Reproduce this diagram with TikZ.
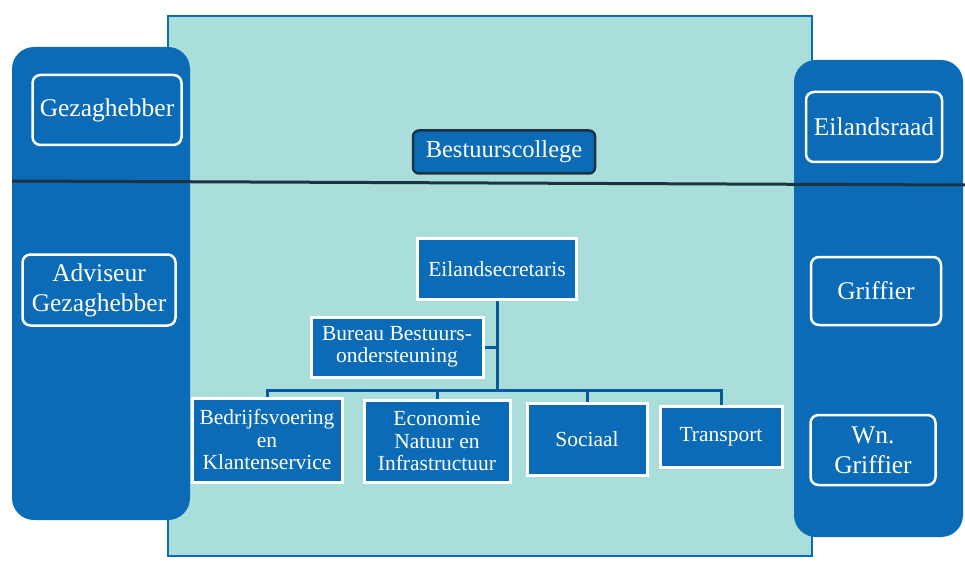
\documentclass[tikz,border=0pt]{standalone}
\usepackage{fontspec}
\setmainfont{Liberation Serif}
\usetikzlibrary{positioning}
\definecolor{panelblue}{RGB}{12,107,182}
\definecolor{paleteal}{RGB}{170,222,218}
\definecolor{darkline}{RGB}{28,52,66}

\begin{document}
\begin{tikzpicture}[
  x=1pt, y=-1pt,
  sidebox/.style={draw=white, line width=2.5pt, fill=panelblue, rounded corners=8pt, inner sep=0pt, text=white, align=center, font=\fontsize{25.5}{30}\selectfont},
  unitbox/.style={draw=white, line width=3pt, fill=panelblue, inner sep=0pt, text=white, align=center, font=\fontsize{21.5}{22.5}\selectfont},
  collegebox/.style={draw=darkline, line width=2.5pt, fill=panelblue, rounded corners=6pt, inner sep=0pt, text=white, font=\fontsize{24.5}{28}\selectfont},
  link/.style={draw=panelblue!85!black, line width=3pt}
]

\useasboundingbox (0,0) rectangle (965,561);
\draw[fill=paleteal, draw=panelblue, line width=2pt] (168,16) rectangle (812,556);
\fill[panelblue, rounded corners=22pt] (12,47) rectangle (190,520);
\fill[panelblue, rounded corners=22pt] (794,60) rectangle (963,537);
\draw[darkline, line width=3pt] (12,181) -- (965,185);

\node[sidebox, minimum width=149pt, minimum height=70pt] (gezag) at (107,110) {Gezaghebber};
\node[sidebox, minimum width=153pt, minimum height=71pt] (adviseur) at (99,290) {Adviseur\\Gezaghebber};
\node[sidebox, minimum width=136pt, minimum height=70pt] (raad) at (874,127) {Eilandsraad};
\node[sidebox, minimum width=130pt, minimum height=68pt] (griffier) at (876,291) {Griffier};
\node[sidebox, minimum width=125pt, minimum height=70pt] (wngriffier) at (873,450) {Wn.\\Griffier};
\node[collegebox, minimum width=182pt, minimum height=43pt] (college) at (504,152) {Bestuurscollege};

\node[unitbox, minimum width=159pt, minimum height=61pt] (secretaris) at (497,269) {Eilandsecretaris};
\node[unitbox, minimum width=172pt, minimum height=60pt] (bureau) at (397,347) {Bureau Bestuurs-\\ondersteuning};
\node[unitbox, minimum width=150pt, minimum height=84pt] (bedrijf) at (267,440) {Bedrijfsvoering\\en\\Klantenservice};
\node[unitbox, minimum width=146pt, minimum height=82pt] (economie) at (437,441) {Economie\\Natuur en\\Infrastructuur};
\node[unitbox, minimum width=120pt, minimum height=72pt] (sociaal) at (587,439) {Sociaal};
\node[unitbox, minimum width=122pt, minimum height=61pt] (transport) at (721,437) {Transport};

\coordinate (bus) at (497,390);
\draw[link] (secretaris.south) -- (bus);
\draw[link] (bureau.east) -- (bureau.east -| bus);
\draw[link] (bedrijf.north) |- (bus) -| (transport.north);
\draw[link] (economie.north) -- (economie.north |- bus);
\draw[link] (sociaal.north) -- (sociaal.north |- bus);

\end{tikzpicture}
\end{document}
